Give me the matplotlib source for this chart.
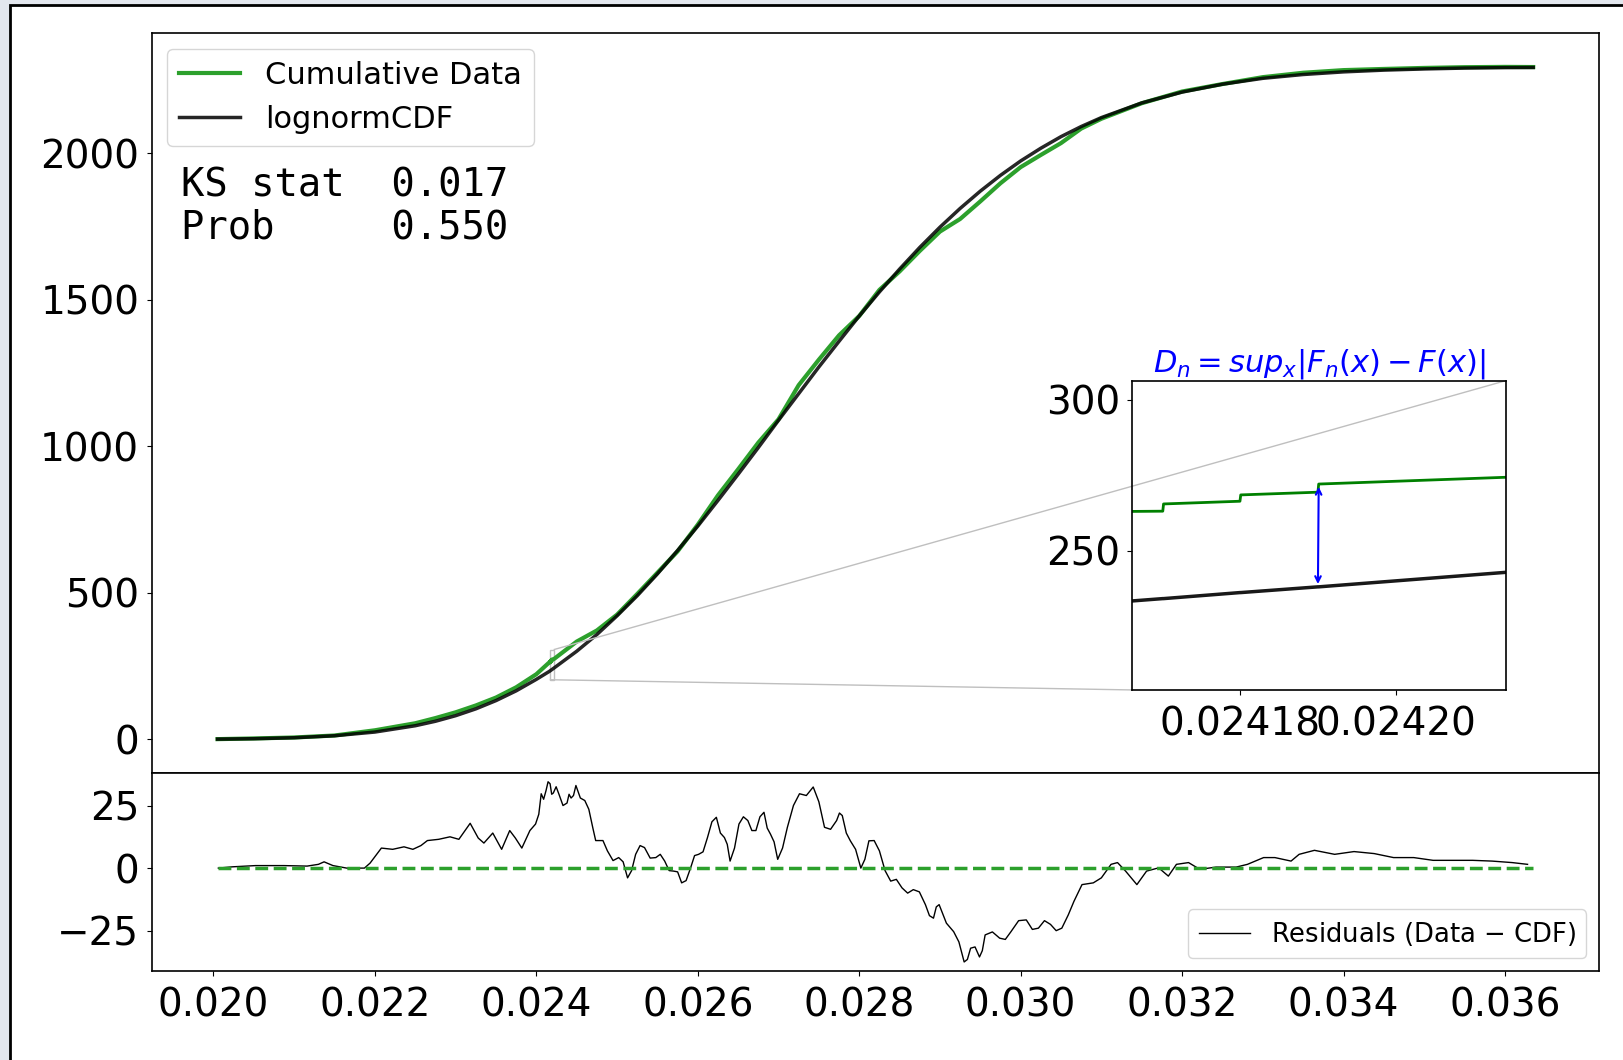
import numpy as np
import matplotlib.pyplot as plt
from matplotlib.patches import Rectangle
from matplotlib.ticker import FormatStrFormatter
from mpl_toolkits.axes_grid1.inset_locator import mark_inset

plt.rcParams['axes.linewidth'] = 1.2

# main curves : x, lognormal CDF, cumulative data
x_main = [0.02005, 0.0205, 0.0210, 0.0215, 0.0220, 0.0225, 0.02275, 0.0230, 0.02325,
          0.0235, 0.02375, 0.0240,
          0.024160, 0.0241701, 0.0241702, 0.0241800, 0.0241801, 0.0241900, 0.0241901, 0.024220,
          0.0245, 0.02475, 0.0250, 0.02525, 0.0255, 0.02575, 0.0260, 0.02625, 0.0265,
          0.02675, 0.0270, 0.02725, 0.0275, 0.02775, 0.0280, 0.02825, 0.0285, 0.02875,
          0.0290, 0.02925, 0.0295, 0.02975, 0.0300, 0.03025, 0.0305, 0.03075,
          0.0310, 0.0315, 0.0320, 0.0325, 0.0330,
          0.0335, 0.0340, 0.0345, 0.0350, 0.0355, 0.0360, 0.03635]
cdf_main = [1.1, 2.6, 5.9, 12.7, 25.3, 46.8, 62.1, 81.1, 104.4,
            132.6, 165.9, 205.1,
            232.1, 234.1, 234.1, 236.1, 236.1, 238.0, 238.0, 244.0,
            301, 358, 422, 490.5, 565, 645, 728, 815.6, 905,
            996, 1089, 1180, 1271, 1358.6, 1445, 1527, 1605, 1679,
            1748, 1812, 1871, 1925, 1974, 2017.5, 2057, 2091.5,
            2122, 2172, 2209, 2236, 2256,
            2269, 2278, 2284, 2288, 2291, 2292.5, 2293]
data_main = [1.1, 3.4, 6.7, 13.5, 31.3, 55.3, 73, 92.6, 116,
             143.0, 178, 222.7,
             262.9, 263.1, 265.5, 266.4, 268.5, 269.4, 272.1, 274.9,
             334, 372, 426, 496.5, 569, 642, 733, 833, 922,
             1013, 1092.5, 1209, 1296, 1379, 1445, 1534, 1597, 1667,
             1733, 1776, 1836, 1898, 1953, 1994.5, 2035, 2084.5,
             2118, 2171, 2211, 2236.5, 2260,
             2275, 2284, 2288, 2291.5, 2294, 2295, 2294.5]

# residuals (data - cdf)
x_res = [0.02006, 0.02023, 0.02052, 0.02087, 0.02116, 0.02130, 0.02137, 0.02148, 0.02165,
         0.02187, 0.02194, 0.02201, 0.02208, 0.02222, 0.02236, 0.02247, 0.02257, 0.02265,
         0.02279, 0.02293, 0.02304, 0.02318, 0.02328, 0.02335, 0.02346, 0.02357, 0.02367,
         0.02374, 0.02382, 0.02392,
         0.02399, 0.02403, 0.02406, 0.02409, 0.02412, 0.024145, 0.02417, 0.02419, 0.02421,
         0.024245, 0.02428, 0.02433, 0.02438, 0.024405, 0.02443, 0.02446, 0.02449, 0.024545,
         0.02460, 0.02465, 0.02470, 0.024735, 0.02477, 0.024825, 0.02488, 0.02495, 0.02502,
         0.025075, 0.02513, 0.02518, 0.02523, 0.025285, 0.02534, 0.02541, 0.02548, 0.025535,
         0.02559, 0.025645, 0.02570, 0.02575, 0.02580, 0.025855, 0.02591, 0.02596, 0.02601,
         0.026065, 0.02612, 0.026175, 0.02623, 0.02628, 0.02633, 0.026365, 0.02640, 0.026455,
         0.02651, 0.026565, 0.02662, 0.02667, 0.02672, 0.02677, 0.02682, 0.02686, 0.02690,
         0.026945, 0.02699, 0.02705, 0.02711, 0.027185, 0.02726, 0.027345, 0.02743, 0.02750,
         0.02757, 0.027645, 0.02772, 0.027755, 0.02779, 0.02784, 0.02789, 0.027955, 0.02802,
         0.02807, 0.02812, 0.028185, 0.02825, 0.02832, 0.02839, 0.02846, 0.02853, 0.02860,
         0.02867, 0.028745, 0.02882, 0.02887, 0.02892, 0.028955, 0.02899, 0.02908, 0.02917,
         0.029235, 0.02930, 0.02934, 0.02938, 0.029435, 0.02949, 0.029525, 0.02956, 0.02965,
         0.02974, 0.02981, 0.02988, 0.029975, 0.03007, 0.030145, 0.03022, 0.030295, 0.03037,
         0.03044, 0.03051,
         0.03059, 0.03066, 0.03076, 0.03090, 0.03100, 0.03112, 0.03120, 0.03130, 0.03144,
         0.03156, 0.03171, 0.03183, 0.03193, 0.03208, 0.03222, 0.03242, 0.03267, 0.03281,
         0.03301, 0.03315, 0.03335, 0.03345, 0.03364, 0.03389, 0.03413, 0.03438, 0.03462,
         0.03487, 0.03511, 0.03560, 0.03584, 0.03609, 0.03628]
r_res = [0, 0.5, 1, 1, 0.8, 1.5, 2.5, 1, 0,
         0, 2, 5, 8, 7.5, 8.5, 7.5, 9, 11,
         11.5, 12.5, 11.5, 17.9, 12, 10, 14, 7.5, 15,
         12, 8, 15,
         17.6, 21.5, 29.7, 27.5, 31, 34.5, 33.7, 29.5, 30,
         32.5, 29.5, 25.0, 26, 29.5, 28, 29, 33, 28,
         27, 23.5, 16, 11, 11, 11, 6.9, 3, 4.2,
         2.5, -3.9, -1, 5.5, 9, 8.2, 4, 4.2, 5.5,
         2.8, -1, -1.2, -1.5, -5.9, -5, 0, 5, 5.5,
         6.5, 12.2, 18.5, 20.3, 14, 12.2, 9.5, 2.8, 8,
         17.6, 20.5, 19, 15, 15, 20.5, 22.3, 16, 13.6,
         10.5, 3.5, 8, 16.3, 25, 29.7, 29, 32.4, 26.5,
         16.3, 15.5, 19, 22, 21, 14, 10.9, 7.5, 0,
         3.5, 10.9, 11, 6.9, -1, -5.2, -4.5, -7.9, -10,
         -8.6, -9.5, -14.6, -19, -20, -15.5, -14.6, -22, -25.4,
         -29.5, -37.5, -36.5, -32, -31.5, -35.5, -33, -26.7, -25.5,
         -28, -28.5, -25.4, -21, -20.7, -24.5, -24, -21, -22.5,
         -25, -24,
         -18.7, -13.3, -6.6, -5.9, -3.9, 1.5, 2.2, -1.2, -6.6,
         -1.2, 0.1, -3.2, 1.5, 2.2, -0.5, 0.4, 0.4, 1.5,
         4.2, 4.2, 2.8, 5.5, 7.1, 5.5, 6.6, 5.8, 4.2,
         4.2, 3.1, 3.1, 2.8, 2.2, 1.5]

ks_stat = 0.017
ks_prob = 0.550

fig = plt.figure(figsize=(16.23, 10.6), dpi=100)
fig.patch.set_facecolor('#e3e7ee')
fig.add_artist(Rectangle((10/1623, -0.05), 1.2, 1.05 - 5/1060, transform=fig.transFigure,
                         facecolor='white', edgecolor='black', lw=2, zorder=-1))

ax = fig.add_axes([0.0935, 0.2710, 0.8917, 0.6976])
ax.plot(x_main, data_main, color='tab:green', lw=3, label='Cumulative Data')
ax.plot(x_main, cdf_main, color='k', lw=2.5, alpha=0.85, label='lognormCDF')
ax.legend(loc='upper left', fontsize=22)
ax.text(0.02, 0.82, 'KS stat  %.3f\nProb     %.3f' % (ks_stat, ks_prob),
        transform=ax.transAxes, family='DejaVu Sans Mono', fontsize=28, va='top',
        linespacing=1.15)
ax.tick_params(labelbottom=False, labelsize=28)
ax.tick_params(axis='y', pad=5.5)

# zoom
axin = fig.add_axes([0.6977, 0.3491, 0.2301, 0.2918])
axin.plot(x_main, data_main, color='green', lw=2)
axin.plot(x_main, cdf_main, color='k', lw=2.5, alpha=0.9)
axin.set_xlim(0.0241662, 0.0242141)
axin.set_ylim(203.8, 306.4)
axin.set_xticks([0.02418, 0.02420])
axin.set_yticks([250, 300])
axin.xaxis.set_major_formatter(FormatStrFormatter('%.5f'))
axin.tick_params(labelsize=28)
axin.tick_params(axis='x', pad=7.5)
axin.tick_params(axis='y', pad=5.5)
axin.set_title(r'$D_n = sup_x|F_n(x) - F(x)|$', color='blue', fontsize=22, pad=6)
axin.annotate('', xy=(x_main[17], cdf_main[17]), xytext=(x_main[18], data_main[18]),
              arrowprops=dict(arrowstyle='<->', color='blue', lw=1.5))
mark_inset(ax, axin, loc1=1, loc2=3, fc='none', ec='0.75', lw=1)

# residuals
axr = fig.add_axes([0.0935, 0.0840, 0.8917, 0.1870], sharex=ax)
axr.plot(x_res, r_res, color='k', lw=1.0, label='Residuals (Data $-$ CDF)')
axr.hlines(0, x_main[0], x_main[-1], colors='tab:green', linestyles='--', lw=2.5)
axr.set_yticks([-25, 0, 25])
axr.xaxis.set_major_formatter(FormatStrFormatter('%.3f'))
axr.tick_params(labelsize=28)
axr.tick_params(axis='x', pad=7.5)
axr.tick_params(axis='y', pad=5.5)
axr.legend(loc='lower right', fontsize=18.6)

fig.savefig('out.png', dpi=100, facecolor=fig.get_facecolor())
